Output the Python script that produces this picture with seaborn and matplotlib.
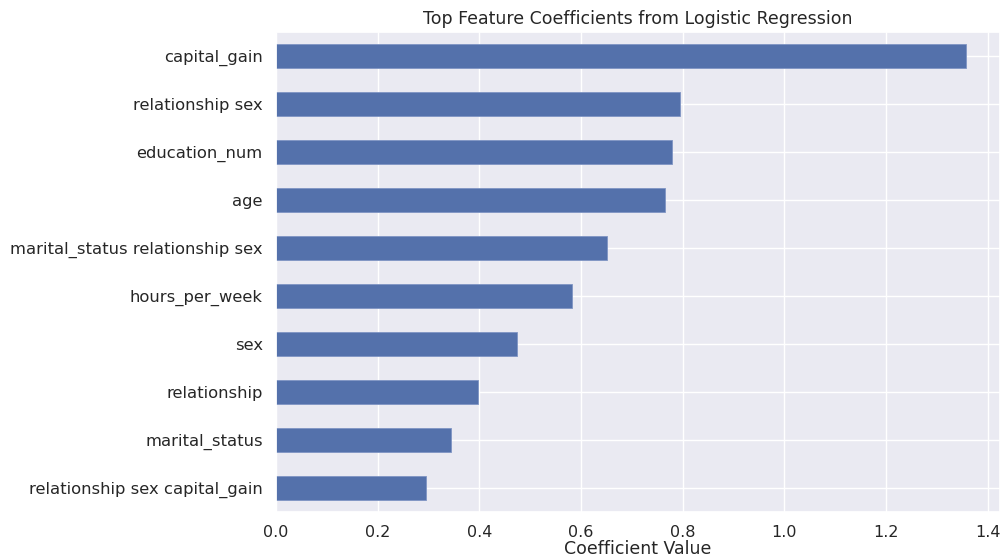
import matplotlib
matplotlib.use("Agg")
import matplotlib.pyplot as plt
import seaborn as sns
import pandas as pd

# top features, largest first (drawn top to bottom)
features = ["capital_gain", "relationship sex", "education_num", "age",
            "marital_status relationship sex", "hours_per_week", "sex",
            "relationship", "marital_status", "relationship sex capital_gain"]
coefs = [1.356, 0.795, 0.778, 0.765, 0.651, 0.582, 0.473, 0.397, 0.344, 0.295]

df = pd.DataFrame({"feature": features, "coef": coefs})

sns.set_theme(style="darkgrid")
fig, ax = plt.subplots(figsize=(10, 5.59), dpi=100)
sns.barplot(data=df, x="coef", y="feature", color="#5471ab", saturation=1,
            width=0.5, edgecolor="#7f95c4", linewidth=0.6, ax=ax)

ax.set_xlim(0, 1.356 * 1.05)
ax.set_ylim(9.5, -0.5)
ax.yaxis.grid(True)
ax.set_axisbelow(True)
ax.set_title("Top Feature Coefficients from Logistic Regression", fontsize=12.5)
ax.set_xlabel("Coefficient Value", fontsize=12.5, labelpad=0)
ax.set_ylabel("")
ax.tick_params(axis="x", labelsize=11.5)
ax.tick_params(axis="y", labelsize=11.8)

plt.subplots_adjust(left=0.276, right=1.0, top=0.943, bottom=0.084)
plt.savefig("out.png", dpi=100)
